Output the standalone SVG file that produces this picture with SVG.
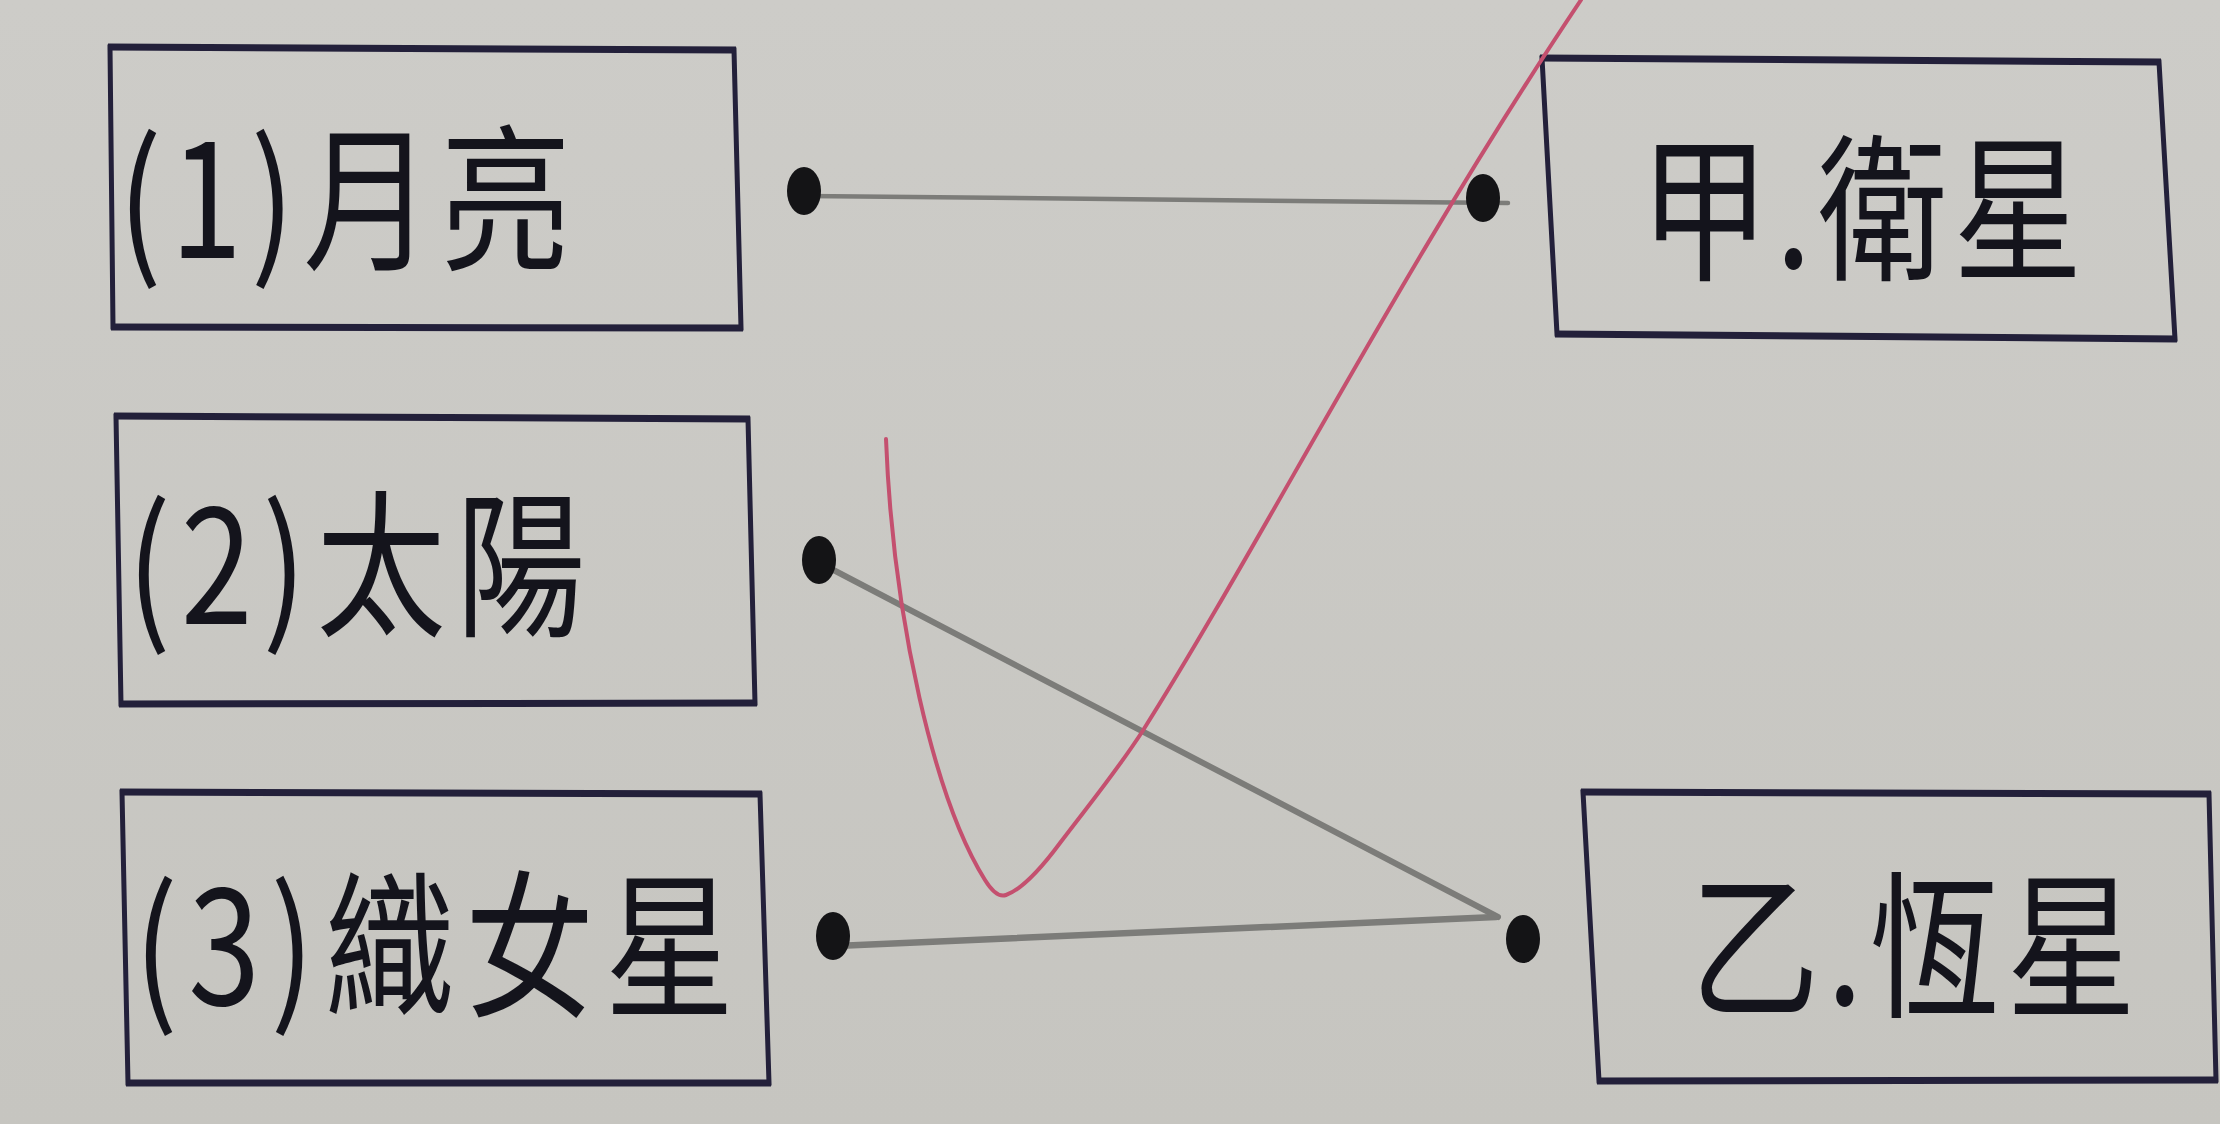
<svg xmlns="http://www.w3.org/2000/svg" width="2220" height="1124" viewBox="0 0 2220 1124">
  <defs>
    <linearGradient id="bg" x1="0" y1="0" x2="0" y2="1">
      <stop offset="0" stop-color="#cdccc8"/>
      <stop offset="1" stop-color="#c6c5c0"/>
    </linearGradient>
  </defs>
  <style>
    .box { fill: none; stroke: #23203a; stroke-width: 5; stroke-linejoin: miter; }
    .edge { fill: none; stroke: #23203a; stroke-width: 7; stroke-linecap: butt; }
    .lbl { font-family: "Noto Sans CJK TC", "Noto Sans CJK SC", sans-serif; font-size: 158px; font-weight: 400; fill: #14141c; }
    .dot { fill: #141416; }
    .wire { fill: none; stroke: #7c7c79; stroke-linecap: round; }
    .mark { fill: none; stroke: #c4506f; stroke-width: 4; stroke-linecap: round; stroke-linejoin: round; }
  </style>

  <rect x="0" y="0" width="2220" height="1124" fill="url(#bg)"/>

  <g id="node-moon">
    <polygon class="box" points="110,47 734,50 741,328 113,327"/>
    <path class="edge" d="M108,47 L736,50 M111,327 L743,328"/>
    <g transform="translate(118,258) scale(0.82,1)">
      <text class="lbl" x="0" y="0" textLength="552" lengthAdjust="spacing">(1)月亮</text>
    </g>
  </g>

  <g id="node-sun">
    <polygon class="box" points="116,416 748,419 755,703 121,704"/>
    <path class="edge" d="M114,416 L750,419 M119,704 L757,703"/>
    <g transform="translate(127,624) scale(0.82,1)">
      <text class="lbl" x="0" y="0" textLength="559" lengthAdjust="spacing">(2)太陽</text>
    </g>
  </g>

  <g id="node-vega">
    <polygon class="box" points="122,792 760,794 769,1083 128,1083"/>
    <path class="edge" d="M120,792 L762,794 M126,1083 L771,1083"/>
    <g transform="translate(134,1005) scale(0.82,1)">
      <text class="lbl" x="0" y="0" textLength="732" lengthAdjust="spacing">(3)織女星</text>
    </g>
  </g>

  <g id="node-satellite">
    <polygon class="box" points="1542,58 2159,62 2175,339 1557,334"/>
    <path class="edge" d="M1540,58 L2161,62 M1555,334 L2177,339"/>
    <g transform="translate(1640,268) scale(0.82,1)">
      <text class="lbl" x="0" y="0" textLength="540" lengthAdjust="spacing">甲.衛星</text>
    </g>
  </g>

  <g id="node-star">
    <polygon class="box" points="1583,792 2209,794 2216,1080 1599,1081"/>
    <path class="edge" d="M1581,792 L2211,794 M1597,1081 L2218,1080"/>
    <g transform="translate(1690,1005) scale(0.82,1)">
      <text class="lbl" x="0" y="0" textLength="544" lengthAdjust="spacing">乙.恆星</text>
    </g>
  </g>

  <g id="connectors">
    <line class="wire" x1="806" y1="196" x2="1508" y2="203" stroke-width="4.5"/>
    <line class="wire" x1="822" y1="564" x2="1498" y2="917" stroke-width="6"/>
    <line class="wire" x1="836" y1="946" x2="1496" y2="917" stroke-width="6.5"/>
    <g id="terminals">
      <ellipse class="dot" cx="804" cy="191" rx="17" ry="24"/>
      <ellipse class="dot" cx="1483" cy="198" rx="17" ry="24"/>
      <ellipse class="dot" cx="819" cy="560" rx="17" ry="24"/>
      <ellipse class="dot" cx="833" cy="936" rx="17" ry="24"/>
      <ellipse class="dot" cx="1523" cy="939" rx="17" ry="24"/>
    </g>
  </g>

  <g id="annotation">
    <path class="mark" d="M886,439 C893,620 935,800 985,880 C993,893 1000,897 1006,895 C1020,890 1040,870 1060,843 C1088,806 1116,772 1142,732 C1262,542 1400,270 1581,0"/>
  </g>
</svg>
